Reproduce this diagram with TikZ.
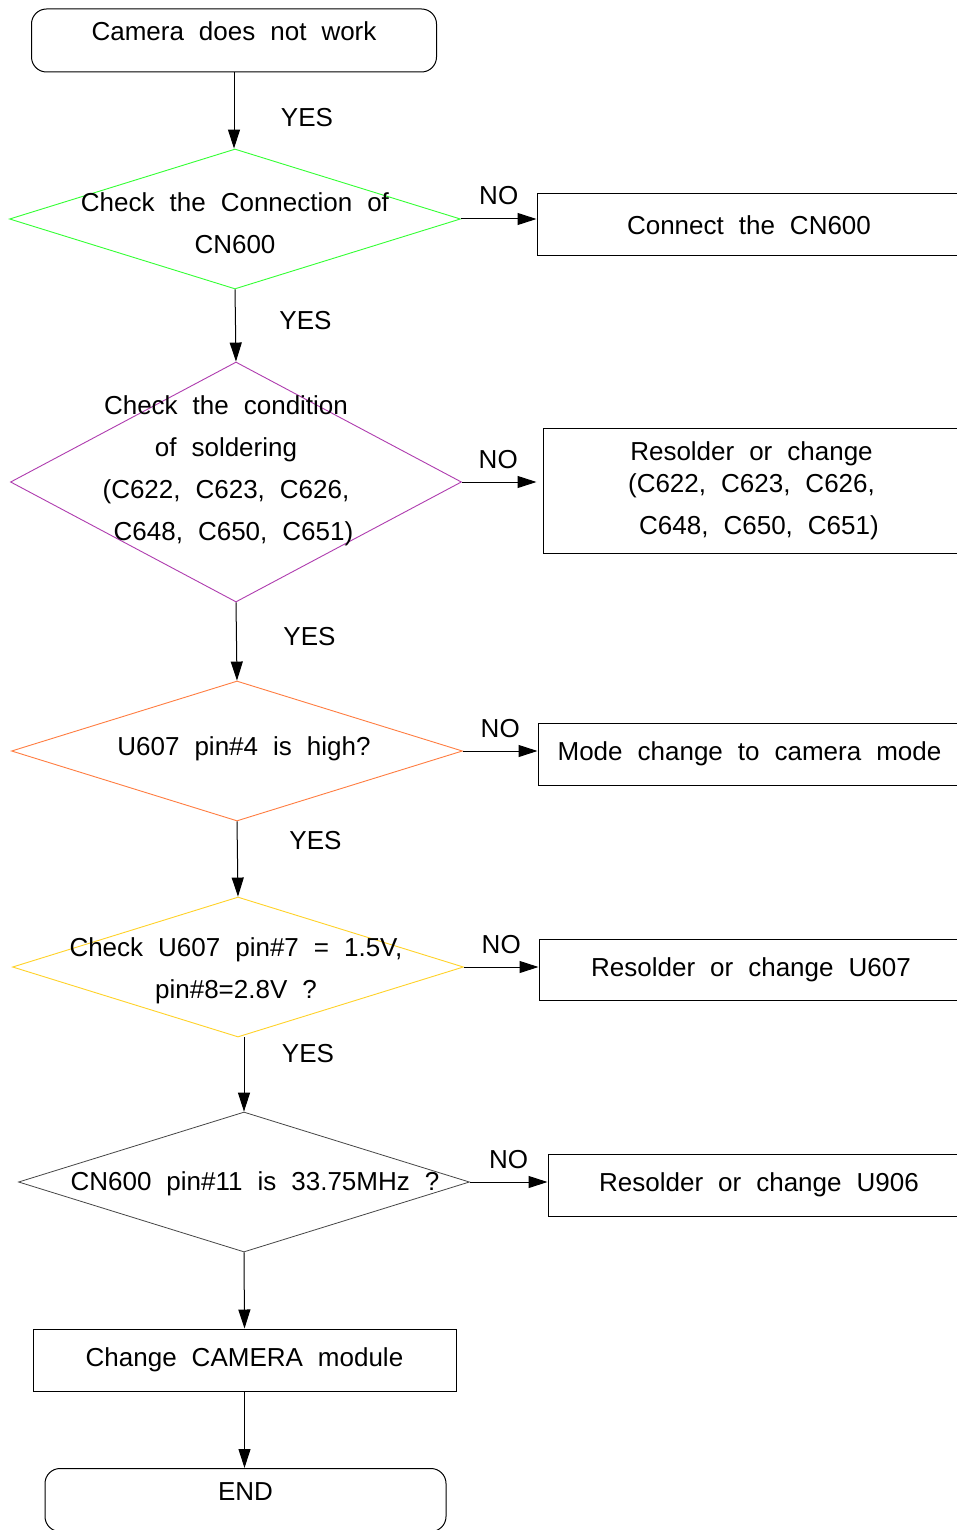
\documentclass[tikz,border=0pt]{standalone}
\usepackage{fontspec}
\setmainfont{Liberation Sans}
\usepackage{tikz}
\usetikzlibrary{shapes,arrows.meta,positioning}

\definecolor{chkgreen}{RGB}{51,255,51}
\definecolor{chkpurple}{RGB}{175,60,175}
\definecolor{chkorange}{RGB}{255,125,65}
\definecolor{chkgold}{RGB}{255,210,40}
\definecolor{chkgray}{RGB}{70,70,70}

\newcommand{\flowfont}{\fontsize{26}{42}\selectfont\spaceskip=15pt plus 3pt minus 3pt\relax}

\tikzset{
  terminal/.style={draw, rounded corners=15pt, minimum width=405pt, minimum height=63pt, text height=0pt, text depth=0pt, line width=1pt},
  decision/.style={draw=#1, diamond, minimum width=451pt, minimum height=140pt, inner sep=0pt, line width=0.9pt},
  action/.style={draw, rectangle, minimum width=423pt, minimum height=62pt, line width=1pt},
  flow/.style={-{Triangle[length=19pt,width=12pt]}, line width=1pt},
  lbl/.style={inner sep=0pt}
}

\begin{document}
\begin{tikzpicture}[x=1pt, y=-1pt, every node/.append style={font=\flowfont}]
\path[use as bounding box, fill=white] (0,0) rectangle (957,1530);

% start and first check
\node[terminal] (start) at (234,40.5) {Camera does not work};
\node[decision=chkgreen] (chk1) at (235,219) {};
\node[align=center] (chk1txt) at ([yshift=-4pt]chk1.center) {Check the Connection of\\CN600};
\node[action, minimum width=424pt] (fix1) at (749,225) {Connect the CN600};

% soldering
\node[decision=chkpurple, minimum height=240pt] (chk2) at (236,482) {};
\node[align=center] (chk2txt) at ([xshift=-10pt,yshift=11pt]chk2.center) {Check the condition\\of soldering\\(C622, C623, C626,\\\ C648, C650, C651)};
\node[action, minimum width=417pt, minimum height=125pt, align=center] (fix2) at (751.5,490.5) {Resolder or change\\[-10pt](C622, C623, C626,\\\ C648, C650, C651)};

% mode
\node[decision=chkorange] (chk3) at (237,751) {};
\node (chk3txt) at ([xshift=7pt,yshift=2.5pt]chk3.center) {U607 pin\#4 is high?};
\node[action] (fix3) at (749.5,754) {Mode change to camera mode};

% voltages
\node[decision=chkgold] (chk4) at (238,967) {};
\node[align=center] (chk4txt) at ([xshift=-2pt,yshift=-4pt]chk4.center) {Check U607 pin\#7 = 1.5V,\\pin\#8=2.8V ?};
\node[action, minimum width=424pt, minimum height=61pt] (fix4) at (751,969.5) {Resolder or change U607};

% clock
\node[decision=chkgray, line width=0.8pt] (chk5) at (244,1182) {};
\node (chk5txt) at ([xshift=11pt,yshift=-1.5pt]chk5.center) {CN600 pin\#11 is 33.75MHz ?};
\node[action, minimum width=422pt] (fix5) at (759,1185) {Resolder or change U906};

% end
\node[action] (swap) at (244.5,1360) {Change CAMERA module};
\node[terminal, minimum width=401pt] (finish) at (245.5,1500) {END};

% connectors
\draw[flow] (start.south) -- (start.south |- chk1.north) node[lbl, midway, xshift=73pt, yshift=-7pt] {YES};
\draw[flow] (chk1.east) -- (chk1.east -| fix1.west) node[lbl, midway, yshift=23pt] {NO};
\draw[flow] (chk1.south) -- (chk2.north) node[lbl, midway, xshift=70pt, yshift=4.5pt] {YES};
\draw[flow, shorten >=6pt] (chk2.east) -- (chk2.east -| fix2.west) node[lbl, midway, xshift=-4pt, yshift=22pt] {NO};
\draw[flow] (chk2.south) -- (chk3.north) node[lbl, midway, xshift=73pt, yshift=4.5pt] {YES};
\draw[flow] (chk3.east) -- (chk3.east -| fix3.west) node[lbl, midway, yshift=22pt] {NO};
\draw[flow] (chk3.south) -- (chk4.north) node[lbl, midway, xshift=78pt, yshift=18.5pt] {YES};
\draw[flow] (chk4.east) -- (chk4.east -| fix4.west) node[lbl, midway, yshift=22pt] {NO};
\draw[flow] (chk4.south -| chk5.north) -- (chk5.north) node[lbl, midway, xshift=64pt, yshift=21pt] {YES};
\draw[flow] (chk5.east) -- (chk5.east -| fix5.west) node[lbl, midway, yshift=22pt] {NO};
\draw[flow] (chk5.south) -- (swap.north);
\draw[flow] (swap.south) -- (swap.south |- finish.north);
\end{tikzpicture}
\end{document}
